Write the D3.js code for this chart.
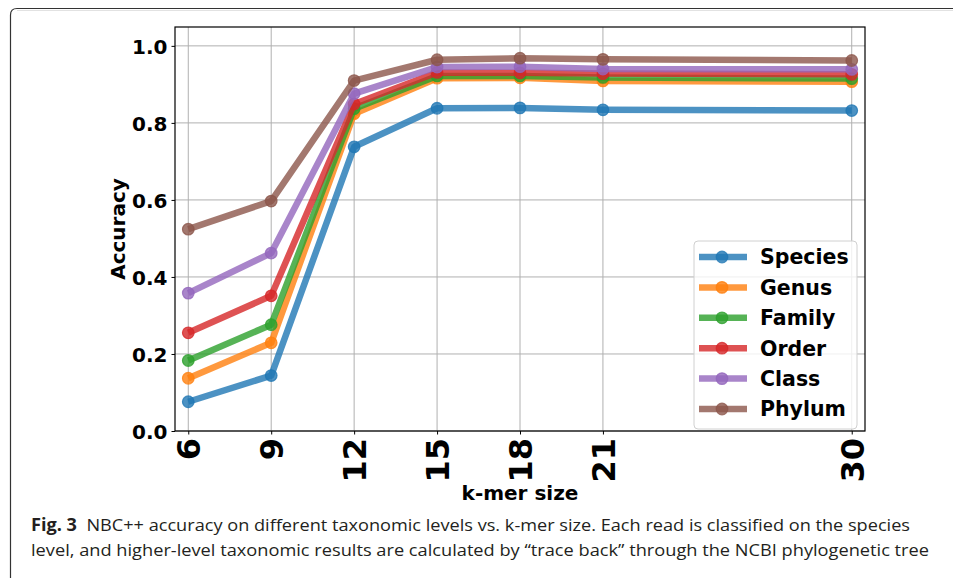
<!DOCTYPE html>
<html>
<head>
<meta charset="utf-8">
<script src="https://cdn.jsdelivr.net/npm/d3@7"></script>
<style>
  body { margin: 0; background: #fff; }
  svg { display: block; }
  .tick text { font-family: "DejaVu Sans", sans-serif; font-weight: bold; fill: #000; }
</style>
</head>
<body>
<div id="chart"></div>
<script>
// data
var kmer = [6, 9, 12, 15, 18, 21, 30];
var levels = ["Species", "Genus", "Family", "Order", "Class", "Phylum"];
var species = [0.076, 0.144, 0.738, 0.838, 0.839, 0.834, 0.832];
var genus   = [0.137, 0.229, 0.824, 0.916, 0.917, 0.909, 0.907];
var family  = [0.183, 0.276, 0.837, 0.922, 0.922, 0.918, 0.915];
var order   = [0.255, 0.351, 0.849, 0.931, 0.930, 0.928, 0.926];
var klass   = [0.358, 0.462, 0.876, 0.945, 0.946, 0.940, 0.939];
var phylum  = [0.524, 0.597, 0.910, 0.964, 0.968, 0.965, 0.962];
var yTicks = [0.0, 0.2, 0.4, 0.6, 0.8, 1.0];
var colors = ["#1f77b4", "#ff7f0e", "#2ca02c", "#d62728", "#9467bd", "#8c564b"];

var series = [species, genus, family, order, klass, phylum];

var W = 953, H = 578;
var margin = {left: 175, top: 27, right: 88, bottom: 147};
var width = W - margin.left - margin.right,
    height = H - margin.top - margin.bottom;

var svg = d3.select("#chart").append("svg")
    .attr("width", W).attr("height", H);

// outer figure frame (rounded top-left corner, runs off the page)
svg.append("path")
    .attr("d", "M10.5,578 L10.5,15 Q10.5,8.5 17,8.5 L953,8.5")
    .attr("fill", "none").attr("stroke", "#333").attr("stroke-width", 1.2);
svg.append("line")
    .attr("x1", 17).attr("x2", 953).attr("y1", 10.5).attr("y2", 10.5)
    .attr("stroke", "#e2e2e2").attr("stroke-width", 1);

var g = svg.append("g")
    .attr("transform", "translate(" + margin.left + "," + margin.top + ")");

var x = d3.scaleLinear().domain([5.52, 30.48]).range([0, width]);
var y = d3.scaleLinear().domain([0, 1.049]).range([height, 0]);

// grid
g.append("g").selectAll("line").data(kmer).enter().append("line")
    .attr("x1", function(d) { return x(d); }).attr("x2", function(d) { return x(d); })
    .attr("y1", 0).attr("y2", height)
    .attr("stroke", "#b0b0b0").attr("stroke-width", 1);
g.append("g").selectAll("line").data(yTicks).enter().append("line")
    .attr("x1", 0).attr("x2", width)
    .attr("y1", function(d) { return y(d); }).attr("y2", function(d) { return y(d); })
    .attr("stroke", "#b0b0b0").attr("stroke-width", 1);

// series
var line = d3.line()
    .x(function(d, i) { return x(kmer[i]); })
    .y(function(d) { return y(d); });

series.forEach(function(s, k) {
  var sg = g.append("g");
  sg.append("path")
      .datum(s)
      .attr("d", line)
      .attr("fill", "none")
      .attr("stroke", colors[k])
      .attr("stroke-opacity", 0.8)
      .attr("stroke-width", 6.5)
      .attr("stroke-linejoin", "round");
  sg.selectAll("circle").data(s).enter().append("circle")
      .attr("cx", function(d, i) { return x(kmer[i]); })
      .attr("cy", function(d) { return y(d); })
      .attr("r", 5.8)
      .attr("fill", colors[k]).attr("fill-opacity", 0.8)
      .attr("stroke", colors[k]).attr("stroke-opacity", 0.8).attr("stroke-width", 1.2);
});

// axes
var yAxis = g.append("g")
    .call(d3.axisLeft(y).tickValues(yTicks).tickFormat(d3.format(".1f")).tickSize(3.5).tickPadding(4));
yAxis.selectAll("text").style("font-size", "20px").attr("dy", "0.36em");

var xAxis = g.append("g")
    .attr("transform", "translate(0," + height + ")")
    .call(d3.axisBottom(x).tickValues(kmer).tickFormat(d3.format("d")).tickSize(3.5));
xAxis.selectAll("text")
    .style("font-size", "32px")
    .attr("transform", "rotate(-90)")
    .attr("text-anchor", "end")
    .attr("x", -7).attr("y", 0).attr("dy", "0.36em");
g.selectAll(".domain").remove();
g.selectAll(".tick line").attr("stroke", "#000").attr("stroke-width", 1);

// spines
g.append("rect")
    .attr("width", width).attr("height", height)
    .attr("fill", "none").attr("stroke", "#000").attr("stroke-width", 1.2);

// axis labels
svg.append("text")
    .attr("transform", "translate(125," + (margin.top + height / 2) + ") rotate(-90)")
    .attr("text-anchor", "middle")
    .style("font-family", "DejaVu Sans").style("font-weight", "bold").style("font-size", "20px")
    .text("Accuracy");
svg.append("text")
    .attr("x", margin.left + width / 2).attr("y", 500)
    .attr("text-anchor", "middle")
    .style("font-family", "DejaVu Sans").style("font-weight", "bold").style("font-size", "20px")
    .text("k-mer size");

// legend
var lg = g.append("g").attr("transform", "translate(" + (694 - margin.left) + "," + (241 - margin.top) + ")");
lg.append("rect")
    .attr("width", 163).attr("height", 188).attr("rx", 4)
    .attr("fill", "#fff").attr("fill-opacity", 0.8)
    .attr("stroke", "#d0d0d0").attr("stroke-width", 1);
levels.forEach(function(name, k) {
  var cy = 16 + k * 30.4;
  lg.append("line")
      .attr("x1", 5).attr("x2", 53).attr("y1", cy).attr("y2", cy)
      .attr("stroke", colors[k]).attr("stroke-opacity", 0.8).attr("stroke-width", 6.5);
  lg.append("circle")
      .attr("cx", 28).attr("cy", cy).attr("r", 5.8)
      .attr("fill", colors[k]).attr("fill-opacity", 0.8)
      .attr("stroke", colors[k]).attr("stroke-opacity", 0.8).attr("stroke-width", 1.2);
  lg.append("text")
      .attr("x", 66).attr("y", cy).attr("dy", "0.36em")
      .style("font-family", "DejaVu Sans").style("font-weight", "bold").style("font-size", "20.5px")
      .text(name);
});

// caption
var cap1 = svg.append("text")
    .attr("x", 31).attr("y", 531)
    .attr("textLength", 879).attr("lengthAdjust", "spacingAndGlyphs")
    .style("font-family", "'Open Sans', 'Noto Sans', sans-serif").style("font-size", "17px")
    .attr("fill", "#231f20");
cap1.append("tspan").style("font-weight", "bold").text("Fig. 3");
cap1.append("tspan").text("\u00a0 NBC++ accuracy on different taxonomic levels vs. k-mer size. Each read is classified on the species");
svg.append("text")
    .attr("x", 31).attr("y", 556)
    .attr("textLength", 898).attr("lengthAdjust", "spacingAndGlyphs")
    .style("font-family", "'Open Sans', 'Noto Sans', sans-serif").style("font-size", "17px")
    .attr("fill", "#231f20")
    .text("level, and higher-level taxonomic results are calculated by \u201ctrace back\u201d through the NCBI phylogenetic tree");
</script>
</body>
</html>
